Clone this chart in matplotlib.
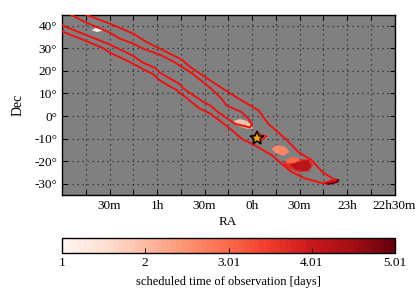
import matplotlib
matplotlib.use("Agg")
import matplotlib.pyplot as plt
from matplotlib.colors import Normalize
from matplotlib.cm import ScalarMappable

plt.rcParams['font.family'] = ['Liberation Serif', 'DejaVu Serif']
plt.rcParams['font.size'] = 9

outer_lower_ra = [2.00,1.74,1.57,1.50,1.25,1.18,1.04,.97,.79,.55,.44,.32,.21,.11,-.03,-.21,-.31,-.42,-.56,-.74,-.86,-.88]
outer_lower_dec = [37.5,33.2,30.1,28.2,23.2,21.5,18.5,15.8,11.4,3.3,1.1,-2.7,-6.3,-10.0,-13.0,-17.4,-21.1,-24.8,-27.7,-29.7,-28.8,-28.5]
outer_upper_ra = [-.74,-.63,-.49,-.35,-.17,-.07,.14,.28,.44,.65,.74,.97,1.11,1.25,1.50,1.74]
outer_upper_dec = [-24.8,-19.6,-16.0,-10.0,-3.4,2.5,7.7,11.4,15.8,21.7,25.0,29.9,32.8,36.5,41.0,44.8]
inner_ra = [2.00,1.74,1.50,1.25,1.15,1.02,.97,.76,.72,.51,.44,.36,.18,.02,0,.04,.11,.27,.32,.44,.65,.83,.97,1.15,1.25,1.39,1.50,1.78,1.90]
inner_dec = [40.2,35.8,31.8,26.6,23.7,21.3,19.2,14.1,12.1,6.2,4.7,1.8,-3.4,-5.1,-3.4,-1.2,1.8,4.7,7.7,12.5,19.5,24.2,27.2,29.9,32.1,34.3,37.0,42.1,44.8]
small_ra = [-.05,-.155,-.10,-.02,-.05]
small_dec = [-7.5,-9.0,-10.9,-9.0,-7.5]

patch_values = [1.05, 1.9, 2.65, 3.75, 4.25, 3.05, 4.95, 2.0, 3.2]
patch_ra = [
    [1.68,1.64,1.59,1.58,1.63],
    [.187,.127,.056,.003,-.003,.074,.145],
    [-.21,-.26,-.35,-.39,-.33,-.24],
    [-.34,-.49,-.61,-.64,-.60,-.49,-.40,-.34],
    [-.42,-.59,-.62,-.58,-.47,-.41],
    [-.36,-.41,-.49,-.50,-.44,-.37],
    [-.76,-.88,-.92,-.90,-.80],
    [-.06,-.14,-.16,-.10],
    [-.10,-.15,-.14,-.10],
]
patch_dec = [
    [38.1,39,38.7,37.9,37.4],
    [-2.3,-1.5,-2.3,-4.4,-5.6,-5.3,-4.1],
    [-14.5,-13,-13.8,-16,-17.5,-16],
    [-20.4,-19.2,-19.3,-21.8,-24.4,-24.8,-23.2,-21.9],
    [-20.3,-19.8,-22.3,-24.2,-23.8,-22],
    [-19.6,-18.4,-18.6,-19.8,-20.8,-20.8],
    [-29.6,-27.9,-28.3,-29.5,-30.5],
    [-8,-8.5,-9.5,-10],
    [-10,-9,-10,-10.8],
]

star_ra = [-.05]
star_dec = [-9.6]

x_major = [1.5,1,.5,0,-.5,-1,-1.5]
x_labels = ['30m','1h','30m','0h','30m','23h','22h30m']
x_minor = [1.75,1.25,.75,.25,-.25,-.75,-1.25]
y_major = [40,30,20,10,0,-10,-20,-30]
cbar_ticks = [1,2,3.01,4.01,5.01]

W, H = 415, 291
fig = plt.figure(figsize=(W/100, H/100), dpi=100)
ax = fig.add_axes([62/W, 1-195/H, 332.5/W, 180.5/H], facecolor='#808080')
ax.set_xlim(2.0,-1.5)
ax.set_ylim(-35,45)

cmap = plt.get_cmap('Reds', 64)
norm = Normalize(1, 5.01)

for r, d, v in zip(patch_ra, patch_dec, patch_values):
    ax.fill(r, d, color=cmap(norm(v)), lw=0.4, zorder=2)
ax.plot(outer_lower_ra + outer_upper_ra, outer_lower_dec + outer_upper_dec, color='#f40f0f', lw=1.4, zorder=3)
ax.plot(inner_ra, inner_dec, color='#f40f0f', lw=1.4, zorder=3)
ax.plot(small_ra, small_dec, color='#f40f0f', lw=1.0, zorder=3)
ax.plot(star_ra, star_dec, marker='*', ms=10.5, mfc='#ffa500', mec='black', mew=1.1, ls='none', zorder=4)

ax.set_xticks(x_major)
ax.set_xticklabels(x_labels)
ax.set_xticks(x_minor, minor=True)
ax.set_yticks(y_major)
ax.set_yticklabels([f'{v}°' for v in y_major])
ax.grid(True, which='both', color='#2a2a2a', ls=(0, (1, 3)), lw=0.9, zorder=1)
ax.set_axisbelow(True)
ax.tick_params(which='both', direction='in', top=True, right=True, length=3.5, width=0.7, labelsize=9.5, pad=3.5)
for s in ax.spines.values():
    s.set_linewidth(1.0)
ax.set_xlabel('RA', fontsize=9.5, labelpad=3)
ax.set_ylabel('Dec', fontsize=10, labelpad=7)

cax = fig.add_axes([62/W, 1-253/H, 332.5/W, 15/H])
cb = fig.colorbar(ScalarMappable(norm=norm, cmap=cmap), cax=cax, orientation='horizontal')
cb.set_ticks(cbar_ticks)
cb.set_ticklabels(['1','2','3.01','4.01','5.01'])
cb.ax.tick_params(direction='in', length=3.5, width=0.7, labelsize=9.5, pad=3)
cb.outline.set_linewidth(1.0)
cb.set_label('scheduled time of observation [days]', fontsize=9, labelpad=5)

fig.savefig('out.png', dpi=100)
